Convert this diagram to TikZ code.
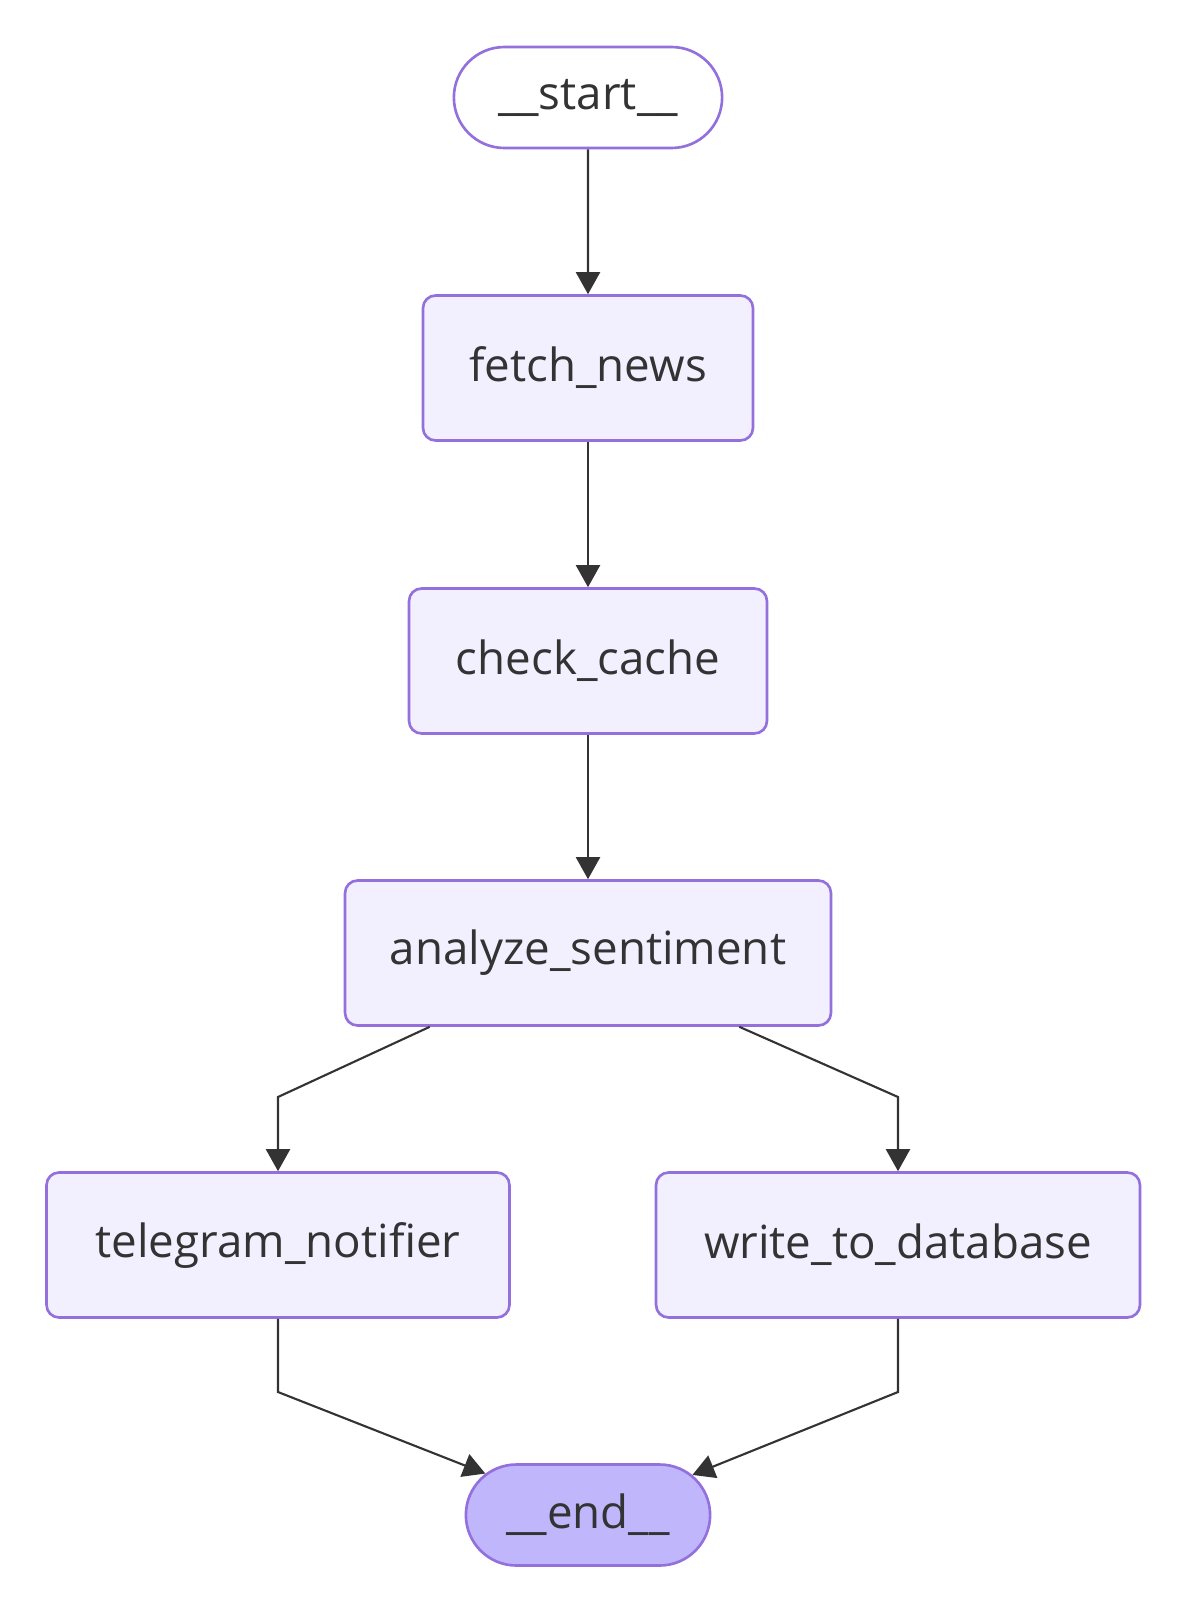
\documentclass[tikz,border=0pt]{standalone}
\usepackage{fontspec}
\setmainfont{Open Sans}
\usetikzlibrary{arrows.meta,shapes.misc}
\definecolor{nodeborder}{HTML}{9370DB}
\definecolor{nodefill}{HTML}{F2F0FF}
\definecolor{endfill}{HTML}{BFB6FC}
\definecolor{edgegray}{HTML}{333333}

\begin{document}
\begin{tikzpicture}[x=0.02cm,y=-0.02cm,->,>={Triangle[length=4.4mm,width=4.8mm]},
                    line width=1.2pt,draw=edgegray,text=edgegray]
  \tikzstyle{step_box}=[rectangle,rounded corners=0.25cm,
                                    draw=nodeborder,
                                    fill=nodefill,
                                    line width=1.5pt,
                                    minimum height=2.9cm,
                                    font=\fontsize{26}{30}\selectfont]
  \tikzstyle{terminal}=[rounded rectangle,
                                    draw=nodeborder,
                                    line width=1.5pt,
                                    minimum height=2.02cm,
                                    font=\fontsize{26}{30}\selectfont]
  \path[fill=white] (0,0) rectangle (1188,1623);
  %Nodos terminales
  \node[terminal,fill=white,minimum width=5.6cm] (start) at (588,97.5) {\_\_start\_\_};
  \node[terminal,fill=endfill,minimum width=5.12cm] (end) at (588,1515) {\_\_end\_\_};
  %Nodos cajas
  \node[step_box,minimum width=6.6cm]  (fetch) at (588,368) {fetch\_news};
  \node[step_box,minimum width=7.16cm] (cache) at (588,661) {check\_cache};
  \node[step_box,minimum width=9.72cm] (analyze) at (588,953) {analyze\_sentiment};
  \node[step_box,minimum width=9.26cm] (telegram) at (278,1245) {telegram\_notifier};
  \node[step_box,minimum width=9.68cm] (database) at (898,1245) {write\_to\_database};
  %Codos
  \coordinate (b1) at (278,1097);
  \coordinate (b2) at (898,1097);
  \coordinate (b3) at (278,1392);
  \coordinate (b4) at (898,1392);
    \path (start) edge node{} (fetch)
          (fetch) edge node{} (cache)
          (cache) edge node{} (analyze);
  \draw (analyze.205.4) -- (b1) -- (telegram.north);
  \draw (analyze.334.9) -- (b2) -- (database.north);
  \draw (telegram.south) -- (b3) -- (end.158.7);
  \draw (database.south) -- (b4) -- (end.21.3);
\end{tikzpicture}
\end{document}
